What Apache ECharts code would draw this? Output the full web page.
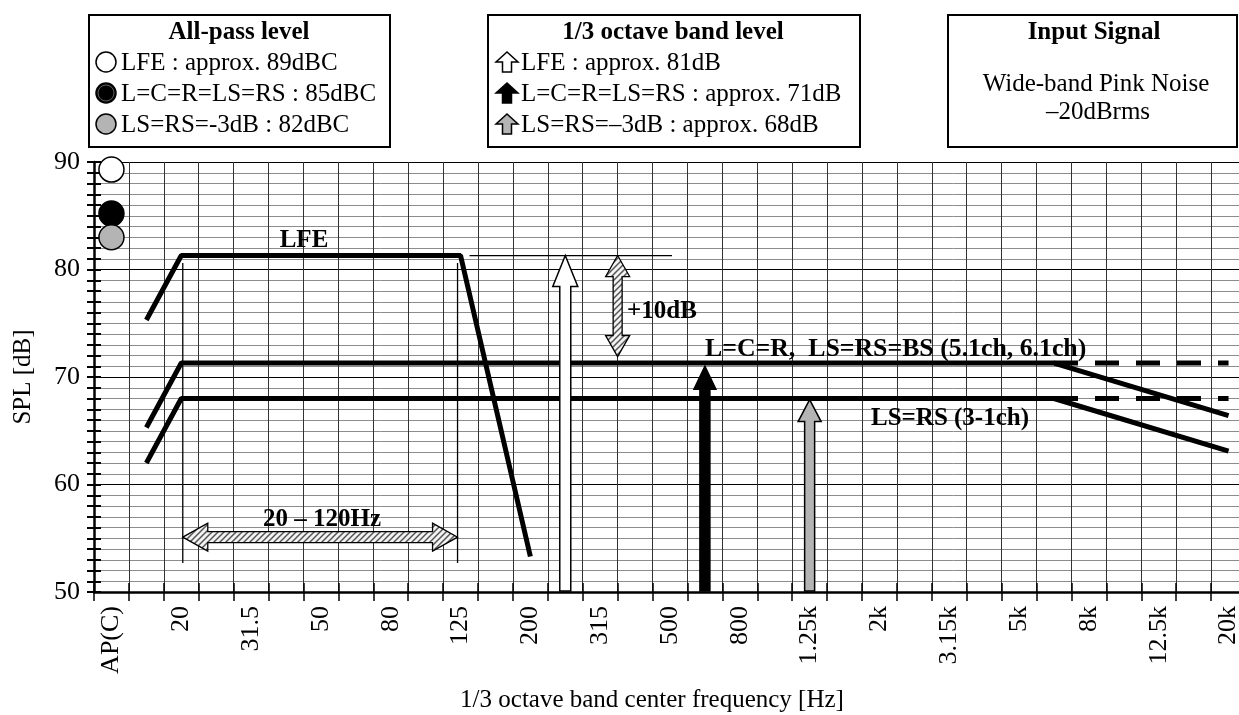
<!DOCTYPE html>
<html><head><meta charset="utf-8">
<script src="https://cdn.jsdelivr.net/npm/echarts@6/dist/echarts.min.js"></script>
<style>html,body{margin:0;padding:0;background:#fff}#c{width:1239px;height:715px}</style>
</head><body><div id="c"></div>
<script>
// ---- data ----
const categories = ['AP(C)','16','20','25','31.5','40','50','63','80','100','125','160','200','250','315','400','500','630','800','1k','1.25k','1.6k','2k','2.5k','3.15k','4k','5k','6.3k','8k','10k','12.5k','16k','20k'];
const yMin = 50, yMax = 90, yStep = 10;
const lfeCurve = [['16', 75.3], ['20', 81.3], ['125', 81.3], ['200', 53.3]];
const mainCurve = [['16', 65.3], ['20', 71.3], ['6.3k', 71.3], ['20k', 66.4]];
const surroundCurve = [['16', 62.0], ['20', 68.0], ['6.3k', 68.0], ['20k', 63.1]];
const mainFlatExt = [['6.3k', 71.3], ['20k', 71.3]];
const surroundFlatExt = [['6.3k', 68.0], ['20k', 68.0]];
const allPassBand = 'AP(C)';
const allPassLevels = [89.3, 85.2, 83.0];
const bandArrowBands = ['250', '630', '1.25k'];
const bandArrowLevels = [81.3, 71.0, 67.9];
const lfeRangeBands = ['20', '125'];
const lfeRangeArrowLevel = 55.1;
const lfeRangeMarkerSpan = [52.7, 80.6];
const lfeBoostBands = ['315', '400'];
const lfeBoostSpan = [81.3, 71.9];
const lfeRefBands = ['125', '500'];
const lfeRefLevel = 81.3;

// ---- helpers ----
const FONT = '"Liberation Serif", "Times New Roman", serif';
const idx = n => categories.indexOf(n);
function hatch() {
  const c = document.createElement('canvas'); c.width = c.height = 6;
  const g = c.getContext('2d');
  g.fillStyle = '#f2f2f2'; g.fillRect(0, 0, 6, 6);
  g.strokeStyle = '#555'; g.lineWidth = 1.5;
  g.beginPath(); g.moveTo(0, 6); g.lineTo(6, 0); g.moveTo(-1, 1); g.lineTo(1, -1); g.moveTo(5, 7); g.lineTo(7, 5); g.stroke();
  return c;
}
const hatchFill = { image: hatch(), repeat: 'repeat' };
const circleColors = ['#ffffff', '#000000', '#b4b4b4'];
const arrowStyles = [
  { fill: '#ffffff', sw: 5.5, hw: 12.5, hh: 31 },
  { fill: '#000000', sw: 5, hw: 11, hh: 23 },
  { fill: '#b4b4b4', sw: 5, hw: 11.5, hh: 22 }
];
function upArrowPts(x, yt, yb, sw, hw, hh) {
  return [[x - sw, yb], [x - sw, yt + hh], [x - hw, yt + hh], [x, yt], [x + hw, yt + hh], [x + sw, yt + hh], [x + sw, yb]];
}

const lineSeries = (data, dashed) => ({
  type: 'line', data, symbol: 'none', z: 5, clip: false,
  lineStyle: { color: '#000', width: 5, type: dashed ? [24, 17] : 'solid', cap: 'butt' }
});

const txt = (x, y, text, opt) => Object.assign({
  type: 'text', x, y, z: 100,
  style: Object.assign({ text, fill: '#000', fontFamily: FONT, fontSize: 25, align: 'left', verticalAlign: 'middle' }, opt || {})
});

const graphics = [];
// legend boxes
[[89, 15, 301, 132], [488, 15, 372, 132], [948, 15, 289, 132]].forEach(r => graphics.push({
  type: 'rect', shape: { x: r[0], y: r[1], width: r[2], height: r[3] }, z: 90,
  style: { fill: '#fff', stroke: '#000', lineWidth: 2 }
}));
graphics.push(txt(239, 33, 'All-pass level', { align: 'center', fontWeight: 'bold' }));
const rowsY = [62, 93, 124];
['LFE : approx. 89dBC', 'L=C=R=LS=RS : 85dBC', 'LS=RS=-3dB : 82dBC'].forEach((t, i) => {
  graphics.push({ type: 'circle', z: 100, shape: { cx: 106, cy: rowsY[i], r: 10 }, style: { fill: circleColors[i], stroke: '#000', lineWidth: 1.5 } });
  if (i === 1) graphics.push({ type: 'circle', z: 101, shape: { cx: 106, cy: rowsY[i], r: 8 }, style: { fill: 'none', stroke: '#777', lineWidth: 0.8 } });
  graphics.push(txt(121, rowsY[i] + 1, t));
});
graphics.push(txt(673, 33, '1/3 octave band level', { align: 'center', fontWeight: 'bold' }));
['LFE : approx. 81dB', 'L=C=R=LS=RS : approx. 71dB', 'LS=RS=\u20133dB : approx. 68dB'].forEach((t, i) => {
  const cy = rowsY[i];
  graphics.push({ type: 'polygon', z: 100, shape: { points: upArrowPts(507, cy - 10, cy + 10, 4.5, 11, 10) }, style: { fill: circleColors[i], stroke: '#000', lineWidth: 1.5 } });
  graphics.push(txt(521, cy + 1, t));
});
graphics.push(txt(1094, 33, 'Input Signal', { align: 'center', fontWeight: 'bold' }));
graphics.push(txt(1096, 84, 'Wide-band Pink Noise', { align: 'center' }));
graphics.push(txt(1098, 112, '\u201320dBrms', { align: 'center' }));
// annotations
graphics.push(txt(304, 241, 'LFE', { align: 'center', fontWeight: 'bold' }));
graphics.push(txt(627, 312, '+10dB', { fontWeight: 'bold' }));
graphics.push(txt(705, 349, 'L=C=R,  LS=RS=BS (5.1ch, 6.1ch)', { fontWeight: 'bold', fontSize: 25.8 }));
graphics.push(txt(871, 419, 'LS=RS (3-1ch)', { fontWeight: 'bold' }));
graphics.push(txt(322, 520, '20 \u2013 120Hz', { align: 'center', fontWeight: 'bold' }));
graphics.push(txt(652, 700, '1/3 octave band center frequency [Hz]', { align: 'center' }));

const option = {
  animation: false,
  backgroundColor: '#fff',
  textStyle: { fontFamily: FONT, color: '#000' },
  grid: { left: 94, top: 162, width: 1152, height: 430, outerBoundsMode: 'none', containLabel: false },
  xAxis: [{
    type: 'category', data: categories, position: 'bottom', boundaryGap: true,
    axisLine: { lineStyle: { color: '#000', width: 2.5 } },
    axisTick: { show: true, interval: 0, length: 9, lineStyle: { color: '#000', width: 1.5 } },
    axisLabel: { interval: 1, rotate: 90, margin: 14, fontSize: 26, fontFamily: FONT, color: '#000' },
    splitLine: { show: true, interval: 0, lineStyle: { color: '#333', width: 1 } }
  }, {
    type: 'category', data: categories, position: 'bottom', boundaryGap: true,
    axisLine: { show: false }, axisLabel: { show: false }, splitLine: { show: false },
    axisTick: { show: true, inside: true, interval: 0, length: 9, lineStyle: { color: '#000', width: 1.5 } }
  }],
  yAxis: [{
    type: 'value', min: yMin, max: yMax, interval: yStep, position: 'left',
    name: 'SPL [dB]', nameLocation: 'middle', nameGap: 58, nameRotate: 90,
    nameTextStyle: { fontSize: 25, fontFamily: FONT, color: '#000' },
    axisLine: { show: true, lineStyle: { color: '#000', width: 2.5 } },
    axisTick: { show: true, length: 7, lineStyle: { color: '#000', width: 2 } },
    minorTick: { show: true, splitNumber: 10, length: 7, lineStyle: { color: '#000', width: 2 } },
    axisLabel: { margin: 14, fontSize: 26, fontFamily: FONT, color: '#000' },
    splitLine: { show: true, lineStyle: { color: '#000', width: 1.2 } },
    minorSplitLine: { show: true, lineStyle: { color: '#8c8c8c', width: 1 } }
  }, {
    type: 'value', min: yMin, max: yMax, interval: yStep, position: 'left',
    axisLine: { show: false }, axisLabel: { show: false }, splitLine: { show: false },
    axisTick: { show: true, inside: true, length: 7, lineStyle: { color: '#000', width: 2 } },
    minorTick: { show: true, splitNumber: 10, length: 7, lineStyle: { color: '#000', width: 2 } }
  }],
  graphic: graphics,
  series: [
    lineSeries(lfeCurve),
    lineSeries(mainCurve),
    lineSeries(surroundCurve),
    lineSeries(mainFlatExt, true),
    lineSeries(surroundFlatExt, true),
    {
      type: 'scatter', z: 8, clip: false, symbol: 'circle', symbolSize: 25,
      data: allPassLevels.map((v, i) => ({ value: [allPassBand, v], itemStyle: { color: circleColors[i], borderColor: '#000', borderWidth: 1.5, opacity: 1 } }))
    },
    {
      type: 'custom', z: 10, clip: false,
      data: bandArrowBands.map((b, i) => [idx(b), bandArrowLevels[i], i]),
      encode: { x: 0, y: 1 },
      renderItem(p, api) {
        const s = arrowStyles[api.value(2)];
        const t = api.coord([api.value(0), api.value(1)]);
        const b = api.coord([api.value(0), yMin]);
        return { type: 'polygon', shape: { points: upArrowPts(t[0], t[1], b[1] - 1, s.sw, s.hw, s.hh) }, style: { fill: s.fill, stroke: '#000', lineWidth: 1.5 } };
      }
    },
    {
      // 20–120 Hz range arrow with marker lines
      type: 'custom', z: 9, clip: false,
      data: [[idx(lfeRangeBands[0]), idx(lfeRangeBands[1]), lfeRangeArrowLevel, lfeRangeMarkerSpan[0], lfeRangeMarkerSpan[1]]],
      encode: { x: [0, 1], y: [2, 3, 4] },
      renderItem(p, api) {
        const a = api.coord([api.value(0), api.value(2)]);
        const b = api.coord([api.value(1), api.value(2)]);
        const y = a[1], x1 = a[0] + 1.5, x2 = b[0] - 3;
        const m1 = api.coord([api.value(0), api.value(3)])[1];
        const m2 = api.coord([api.value(0), api.value(4)])[1];
        const hl = 25, hh = 14, sh = 5.5;
        return { type: 'group', children: [
          { type: 'line', shape: { x1: x1, y1: m1, x2: x1, y2: m2 }, style: { stroke: '#000', lineWidth: 1.3 } },
          { type: 'line', shape: { x1: x2, y1: m1, x2: x2, y2: m2 }, style: { stroke: '#000', lineWidth: 1.3 } },
          { type: 'polygon', shape: { points: [[x1, y], [x1 + hl, y - hh], [x1 + hl, y - sh], [x2 - hl, y - sh], [x2 - hl, y - hh], [x2, y], [x2 - hl, y + hh], [x2 - hl, y + sh], [x1 + hl, y + sh], [x1 + hl, y + hh]] },
            style: { fill: hatchFill, stroke: '#000', lineWidth: 1.3 } }
        ] };
      }
    },
    {
      // +10 dB arrow and LFE reference line
      type: 'custom', z: 9, clip: false,
      data: [[idx(lfeBoostBands[0]), idx(lfeBoostBands[1]), lfeBoostSpan[0], lfeBoostSpan[1], idx(lfeRefBands[0]), idx(lfeRefBands[1]), lfeRefLevel]],
      encode: { x: [0, 1, 4, 5], y: [2, 3, 6] },
      renderItem(p, api) {
        const a = api.coord([api.value(0), api.value(2)]);
        const b = api.coord([api.value(1), api.value(3)]);
        const x = (a[0] + b[0]) / 2, y1 = a[1], y2 = b[1];
        const hw = 12, hh = 21, sw = 4.5;
        const r1 = api.coord([api.value(4), api.value(6)]);
        const r2 = api.coord([api.value(5), api.value(6)]);
        return { type: 'group', children: [
          { type: 'line', shape: { x1: r1[0] + 9, y1: r1[1], x2: r2[0] + 2, y2: r2[1] }, style: { stroke: '#000', lineWidth: 1.3 } },
          { type: 'polygon', shape: { points: [[x, y1], [x + hw, y1 + hh], [x + sw, y1 + hh], [x + sw, y2 - hh], [x + hw, y2 - hh], [x, y2], [x - hw, y2 - hh], [x - sw, y2 - hh], [x - sw, y1 + hh], [x - hw, y1 + hh]] },
            style: { fill: hatchFill, stroke: '#000', lineWidth: 1.3 } }
        ] };
      }
    }
  ]
};
const chart = echarts.init(document.getElementById('c'), null, { renderer: 'canvas' });
chart.setOption(option);
</script></body></html>
